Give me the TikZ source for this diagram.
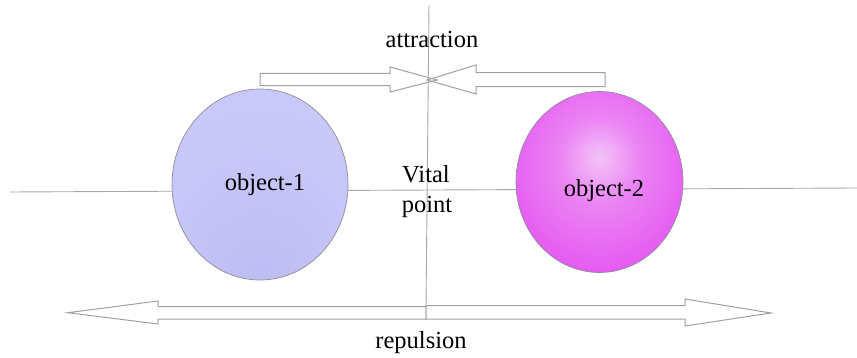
\documentclass[tikz,border=0pt]{standalone}
\usepackage{fontspec}
\setmainfont{Liberation Serif}
\usetikzlibrary{shapes.geometric,shadings}
\definecolor{lineg}{HTML}{A8A8A8}
\definecolor{arrowg}{HTML}{A0A0A0}
\definecolor{edgeg}{HTML}{8C8C9C}
\definecolor{oonein}{HTML}{BBBBF3}
\definecolor{ooneout}{HTML}{CBCBFA}
\definecolor{otwoin}{HTML}{F4C4F8}
\definecolor{otwoout}{HTML}{E244F0}
\pgfdeclareradialshading{objone}{\pgfpoint{0bp}{-34bp}}{color(0bp)=(oonein); color(30bp)=(ooneout!75!oonein); color(70bp)=(ooneout)}
\pgfdeclareradialshading{objtwo}{\pgfpoint{0bp}{7bp}}{color(0bp)=(otwoin); color(12bp)=(otwoin!50!otwoout); color(38bp)=(otwoout); color(70bp)=(otwoout)}
\tikzset{
  guide/.style={draw=lineg, line width=0.9pt},
  blockarrow/.style={draw=arrowg, line width=1pt, line join=miter},
  lbl/.style={font=\fontsize{24.5}{30}\selectfont, inner sep=0pt, anchor=base, text=black},
  obj/.style={ellipse, draw=edgeg, line width=0.7pt, inner sep=0pt}
}
\begin{document}
\begin{tikzpicture}[x=1pt,y=-1pt]
\useasboundingbox (0,0) rectangle (857,358);
% guide lines
\coordinate (hl) at (10,192);
\coordinate (hr) at (857,188);
\coordinate (vt) at (429,5);
\coordinate (vb) at (426,307);
\draw[guide] (hl) -- (hr);
\draw[guide] (vt) -- (vb);
% objects
\node[obj, shading=objone, minimum width=176pt, minimum height=191pt] (o1) at (260,184.5) {};
\node[obj, shading=objtwo, minimum width=167pt, minimum height=181pt] (o2) at (599.5,182) {};
% attraction arrows
\draw[blockarrow] (260,73.3) -- (390,73.3) -- (390,67) -- (437,80) -- (390,92) -- (390,85.7) -- (260,85.7) -- cycle;
\draw[blockarrow] (605,72.7) -- (476,72.7) -- (476,65) -- (427,80) -- (476,94) -- (476,86.7) -- (605,86.7) -- cycle;
% repulsion arrows
\draw[blockarrow, fill=white] (426,306.7) -- (158,306.7) -- (158,301) -- (68,312.7) -- (158,324) -- (158,319) -- (426,319) -- cycle;
\draw[blockarrow, fill=white] (426,305.7) -- (685,305.7) -- (685,299) -- (771,313) -- (685,326) -- (685,319) -- (426,319) -- cycle;
% labels
\node[lbl] (att) at (432,48) {attraction};
\node[lbl] (t1) at (265,191) {object-1};
\node[lbl] (t2) at (604,197) {object-2};
\node[lbl] (vital) at (426,183) {Vital};
\node[lbl] (point) at (427,213) {point};
\node[lbl] (rep) at (421,348) {repulsion};
\end{tikzpicture}
\end{document}
